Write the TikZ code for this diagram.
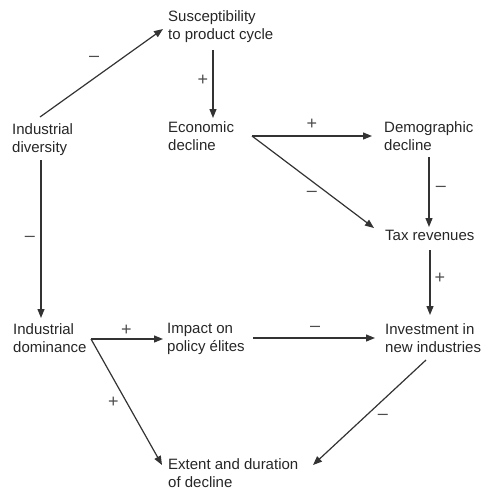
\documentclass[tikz,border=0pt]{standalone}
\usepackage{fontspec}
\setmainfont{Liberation Sans}
\usetikzlibrary{arrows.meta}
\begin{document}
\begin{tikzpicture}[x=1pt,y=-1pt,
  box/.style={anchor=north west, inner sep=0pt, align=left, font=\fontsize{15}{18}\selectfont, text=black!85},
  arr/.style={-{Triangle[length=9pt,width=7pt]}, line width=1.2pt, draw=black!80},
  lab/.style={inner sep=0pt, font=\fontsize{18}{20}\selectfont, text=black!70}]
\useasboundingbox (0,0) rectangle (483,490);
% nodes
\node[box] (sus) at (168,10) {Susceptibility\\to product cycle};
\node[box] (ind) at (12,123) {Industrial\\diversity};
\node[box] (eco) at (168,121) {Economic\\decline};
\node[box] (dem) at (384,121) {Demographic\\decline};
\node[box] (tax) at (385,230) {Tax revenues};
\node[box] (dom) at (13,323) {Industrial\\dominance};
\node[box] (imp) at (167,323) {Impact on\\policy élites};
\node[box] (inv) at (385,323) {Investment in\\new industries};
\node[box] (ext) at (168,458) {Extent and duration\\of decline};
% connectors
\draw[arr] ([shift={(28,-6)}]ind.north west) -- node[lab,pos=0.44,shift={(0,-19)}] (l1) {\textendash} ([shift={(-5,19)}]sus.north west);
\draw[arr] ([shift={(45,40)}]sus.north west) -- node[lab,pos=0.44,shift={(-10,0)}] (l2) {+} ([shift={(45,-3)}]eco.north west);
\draw[arr] ([shift={(84,15)}]eco.north west) -- node[lab,pos=0.5,shift={(0,-12)}] (l3) {+} ([shift={(-12,15)}]dem.north west);
\draw[arr] ([shift={(84,15)}]eco.north west) -- node[lab,pos=0.49,shift={(0,13)}] (l4) {\textendash} ([shift={(-11,-2)}]tax.north west);
\draw[arr] ([shift={(45,36)}]dem.north west) -- node[lab,pos=0.46,shift={(12,0)}] (l5) {\textendash} ([shift={(44,-3)}]tax.north west);
\draw[arr] ([shift={(45,20)}]tax.north west) -- node[lab,pos=0.43,shift={(10,0)}] (l6) {+} ([shift={(45,-8)}]inv.north west);
\draw[arr] ([shift={(29,37)}]ind.north west) -- node[lab,pos=0.5,shift={(-11,0)}] (l7) {\textendash} ([shift={(28,-5)}]dom.north west);
\draw[arr] ([shift={(78,16)}]dom.north west) -- node[lab,pos=0.49,shift={(0,-9)}] (l8) {+} ([shift={(-4,16)}]imp.north west);
\draw[arr] ([shift={(78,16)}]dom.north west) -- node[lab,pos=0.5,shift={(-13,0)}] (l9) {+} ([shift={(-6,7)}]ext.north west);
\draw[arr] ([shift={(86,15)}]imp.north west) -- node[lab,pos=0.51,shift={(0,-9)}] (l10) {\textendash} ([shift={(-10,15)}]inv.north west);
\draw[arr] ([shift={(41,37)}]inv.north west) -- node[lab,pos=0.54,shift={(18,0)}] (l11) {\textendash} ([shift={(145,7)}]ext.north west);
\end{tikzpicture}
\end{document}
